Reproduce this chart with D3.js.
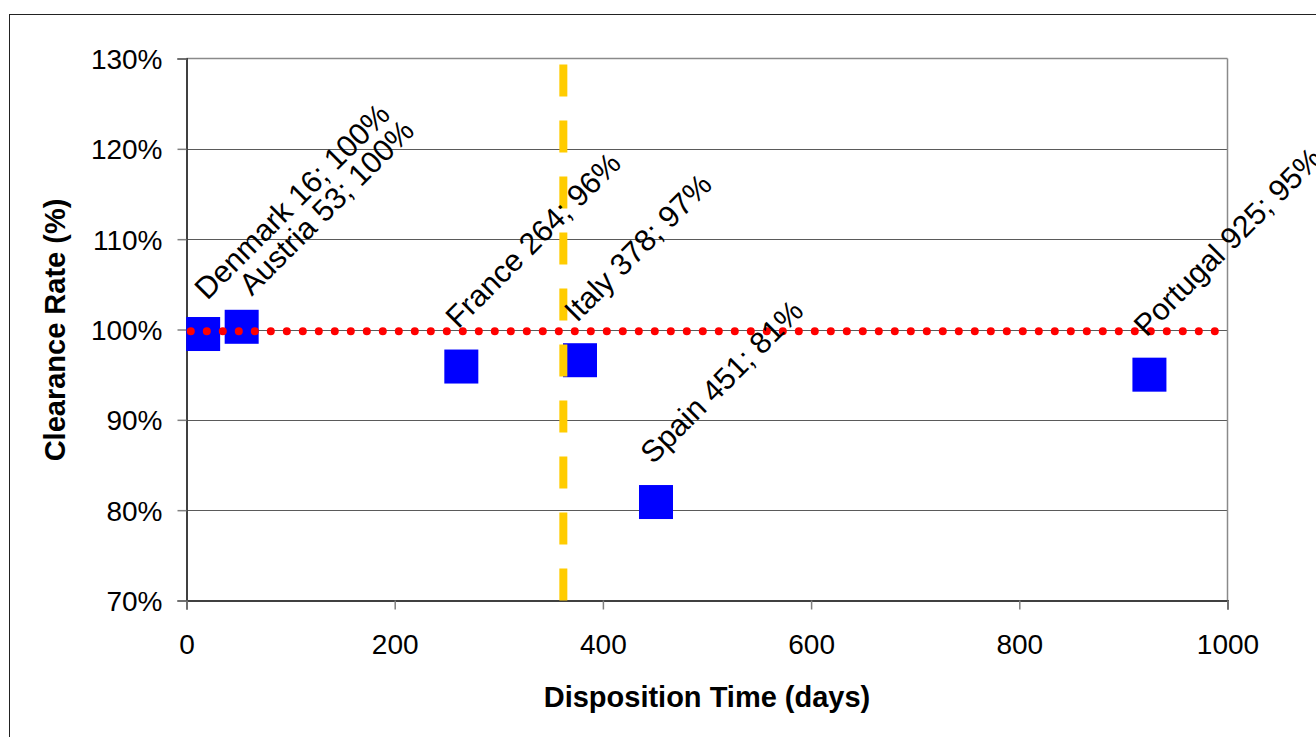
<!DOCTYPE html>
<html>
<head>
<meta charset="utf-8">
<script src="https://cdn.jsdelivr.net/npm/d3@7"></script>
<style>
  html, body { margin: 0; padding: 0; background: #fff; }
  svg { display: block; font-family: "Liberation Sans", Arial, sans-serif; }
</style>
</head>
<body>
<svg id="chart" width="1316" height="737"></svg>
<script>
// ---- data ----
const countries = ["Denmark", "Austria", "France", "Italy", "Spain", "Portugal"];
const dispositionDays = [16, 53, 264, 378, 451, 925];
const clearanceRate = [99.5, 100.3, 95.9, 96.6, 80.9, 95.0];
const rateLabels = ["100%", "100%", "96%", "97%", "81%", "95%"];
const xTicks = [0, 200, 400, 600, 800, 1000];
const yTicks = [70, 80, 90, 100, 110, 120, 130];
const thresholdDays = 362;      // yellow dashed reference
const targetRate = 99.8;        // red dotted reference (100%)

// ---- layout / style ----
const svg = d3.select("#chart");
const plot = { left: 186.5, right: 1227.5, top: 58.5, bottom: 600.5 };
const x = d3.scaleLinear().domain([0, 1000]).range([plot.left, plot.right]);
const y = d3.scaleLinear().domain([70, 130]).range([plot.bottom, plot.top]);
const labelOffset = { dx: -3, dy: -37 };
const labelNudge = { Denmark: [7, 4], Austria: [13, 7] };

// outer frame
svg.append("rect").attr("x", 9.5).attr("y", 14.5).attr("width", 1400).attr("height", 800)
  .attr("fill", "none").attr("stroke", "#222").attr("stroke-width", 1);

// gridlines
svg.append("g").selectAll("line").data(yTicks.filter(d => d > 70 && d < 130)).join("line")
  .attr("x1", plot.left).attr("x2", plot.right)
  .attr("y1", d => Math.round(y(d)) + 0.5).attr("y2", d => Math.round(y(d)) + 0.5)
  .attr("stroke", "#5a5a5a").attr("stroke-width", 1);

// plot border top / right
svg.append("line").attr("x1", plot.left).attr("x2", plot.right).attr("y1", y(130)).attr("y2", y(130))
  .attr("stroke", "#8a8a8a").attr("stroke-width", 1.5);
svg.append("line").attr("x1", plot.right).attr("x2", plot.right).attr("y1", y(130)).attr("y2", y(70))
  .attr("stroke", "#8a8a8a").attr("stroke-width", 1.5);

// axes
const yAxis = d3.axisLeft(y).tickValues(yTicks).tickFormat(d => d + "%").tickSize(9).tickPadding(15);
const gy = svg.append("g").attr("transform", `translate(${plot.left},0)`).call(yAxis);
gy.select(".domain").attr("stroke", "#404040").attr("stroke-width", 2);
gy.selectAll(".tick line").attr("stroke", "#808080").attr("stroke-width", 1.5);
gy.selectAll(".tick text").attr("font-size", 28).attr("fill", "#000")
  .attr("font-family", "Liberation Sans, Arial, sans-serif").attr("dy", "0.36em");

const xAxis = d3.axisBottom(x).tickValues(xTicks).tickFormat(d3.format("d")).tickSize(9).tickPadding(25);
const gx = svg.append("g").attr("transform", `translate(0,${plot.bottom})`).call(xAxis);
gx.select(".domain").attr("stroke", "#404040").attr("stroke-width", 2);
gx.selectAll(".tick line").attr("stroke", "#808080").attr("stroke-width", 1.5);
gx.selectAll(".tick text").attr("font-size", 28).attr("fill", "#000")
  .attr("font-family", "Liberation Sans, Arial, sans-serif");

// points
const pts = countries.map((c, i) => ({ name: c, days: dispositionDays[i], rate: clearanceRate[i], lab: rateLabels[i] }));
const sq = 34;
svg.append("g").selectAll("rect").data(pts).join("rect")
  .attr("x", d => x(d.days) - sq / 2).attr("y", d => y(d.rate) - sq / 2)
  .attr("width", sq).attr("height", sq).attr("fill", "#0000ff");

// red dotted target line
svg.append("line")
  .attr("x1", x(0)).attr("x2", x(1000)).attr("y1", y(targetRate)).attr("y2", y(targetRate))
  .attr("stroke", "#ff0000").attr("stroke-width", 8).attr("stroke-linecap", "round")
  .attr("stroke-dasharray", "0,16").attr("stroke-dashoffset", 11.7);

// yellow dashed threshold line (drawn from bottom upward)
svg.append("line")
  .attr("x1", x(thresholdDays)).attr("x2", x(thresholdDays)).attr("y1", y(70)).attr("y2", y(130))
  .attr("stroke", "#ffcc00").attr("stroke-width", 8).attr("stroke-dasharray", "32,24");

// labels
svg.append("g").selectAll("text").data(pts).join("text")
  .attr("transform", d => {
    const n = labelNudge[d.name] || [0, 0];
    const lx = x(d.days) + labelOffset.dx + n[0];
    const ly = y(d.rate) + labelOffset.dy + n[1];
    return `translate(${lx},${ly}) rotate(-45)`;
  })
  .attr("font-size", 30.5).attr("fill", "#000")
  .text(d => `${d.name} ${d.days}; ${d.lab}`);

// axis titles
svg.append("text").attr("x", (plot.left + plot.right) / 2).attr("y", 707)
  .attr("text-anchor", "middle").attr("font-size", 29).attr("font-weight", "bold")
  .text("Disposition Time (days)");
svg.append("text").attr("transform", `translate(65,330) rotate(-90)`)
  .attr("text-anchor", "middle").attr("font-size", 29).attr("font-weight", "bold")
  .text("Clearance Rate (%)");
</script>
</body>
</html>
